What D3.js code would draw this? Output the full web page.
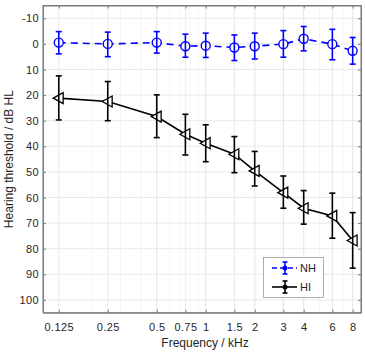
<!DOCTYPE html>
<html><head><meta charset="utf-8">
<script src="https://cdn.jsdelivr.net/npm/d3@7"></script>
<style>body{margin:0;background:#fff;}svg{display:block;font-family:"Liberation Sans",Arial,sans-serif;}</style>
</head><body><svg id="c" width="365" height="356"></svg>
<script>
const freqs = [0.125, 0.25, 0.5, 0.75, 1, 1.5, 2, 3, 4, 6, 8];
const nhMean = [-0.5, 0, -0.5, 0.9, 0.7, 1.4, 0.9, 0.1, -2, 0.1, 2.7];
const nhLow  = [-4.8, -4.6, -4.8, -3.8, -4.2, -3.5, -4.2, -5.2, -6.8, -5.7, -2.5];
const nhHigh = [3.9, 5, 3.6, 5.2, 5.3, 6.5, 5.9, 5.2, 2.7, 6.2, 7.9];
const hiMean = [21.2, 22.5, 28.4, 35.3, 38.8, 43.1, 49.6, 58.1, 64.2, 67.2, 76.8];
const hiLow  = [12.5, 14.7, 19.9, 27.5, 31.6, 36.2, 42, 51.6, 57.3, 58.3, 65.9];
const hiHigh = [29.7, 30, 36.6, 43.4, 46, 50.3, 55.5, 64.2, 70.4, 75.9, 87.6];
const xTicks = [0.125, 0.25, 0.5, 0.75, 1, 1.5, 2, 3, 4, 6, 8];
const xTickLabels = ["0.125", "0.25", "0.5", "0.75", "1", "1.5", "2", "3", "4", "6", "8"];
const yTicks = [-10, 0, 10, 20, 30, 40, 50, 60, 70, 80, 90, 100];
const yTickLabels = ["-10", "0", "10", "20", "30", "40", "50", "60", "70", "80", "90", "100"];
const minorX = [0.1,0.2,0.3,0.4,0.5,0.6,0.7,0.8,0.9,1,2,3,4,5,6,7,8,9];

const L = 43, R = 361, T = 5.5, B = 312.7;
const svg = d3.select("#c");
const x = d3.scaleLog().domain([0.1, 9]).range([L, R]);
const y = d3.scaleLinear().domain([-15, 105]).range([T, B]);

const g = svg.append("g");
g.selectAll("line.mg").data(minorX).join("line")
  .attr("x1", d => x(d)).attr("x2", d => x(d)).attr("y1", T).attr("y2", B)
  .attr("stroke", "#ededed").attr("stroke-width", 0.6);
g.selectAll("line.gx").data(xTicks).join("line")
  .attr("x1", d => x(d)).attr("x2", d => x(d)).attr("y1", T).attr("y2", B)
  .attr("stroke", "#e3e3e3").attr("stroke-width", 0.8);
g.selectAll("line.gy").data(yTicks).join("line")
  .attr("x1", L).attr("x2", R).attr("y1", d => y(d)).attr("y2", d => y(d))
  .attr("stroke", "#e3e3e3").attr("stroke-width", 0.8);

const axCol = "#7a7a7a", txtCol = "#262626";
const xAxis = svg.append("g").attr("transform", `translate(0,${B})`)
  .call(d3.axisBottom(x).tickValues(xTicks).tickFormat((d,i) => xTickLabels[i]).tickSizeInner(-3).tickSizeOuter(0).tickPadding(10.5));
const xAxisTop = svg.append("g").attr("transform", `translate(0,${T})`)
  .call(d3.axisTop(x).tickValues(xTicks).tickFormat("").tickSizeInner(-3).tickSizeOuter(0));
const yAxis = svg.append("g").attr("transform", `translate(${L},0)`)
  .call(d3.axisLeft(y).tickValues(yTicks).tickFormat((d,i) => yTickLabels[i]).tickSizeInner(-3).tickSizeOuter(0).tickPadding(4));
const yAxisR = svg.append("g").attr("transform", `translate(${R},0)`)
  .call(d3.axisRight(y).tickValues(yTicks).tickFormat("").tickSizeInner(-3).tickSizeOuter(0));
[xAxis, xAxisTop, yAxis, yAxisR].forEach(a => {
  a.select(".domain").attr("stroke", axCol);
  a.selectAll(".tick line").attr("stroke", axCol);
  a.selectAll("text").attr("fill", txtCol).attr("font-size", 11).attr("letter-spacing", 0.4)
    .attr("font-family", '"Liberation Sans",Arial,sans-serif');
});
svg.append("rect").attr("x", L).attr("y", T).attr("width", R-L).attr("height", B-T)
  .attr("fill", "none").attr("stroke", axCol).attr("stroke-width", 1);

svg.append("text").attr("x", 205).attr("y", 347).attr("text-anchor", "middle")
  .attr("font-size", 12).attr("fill", txtCol).text("Frequency / kHz");
svg.append("text").attr("transform", `translate(13,${(T+B)/2}) rotate(-90)`).attr("text-anchor", "middle")
  .attr("font-size", 12).attr("fill", txtCol).text("Hearing threshold / dB HL");

function series(mean, lo, hi, color, dash, marker) {
  const gs = svg.append("g");
  const line = d3.line().x((d,i) => x(freqs[i])).y(d => y(d));
  gs.append("path").attr("d", line(mean)).attr("fill", "none").attr("stroke", color)
    .attr("stroke-width", 1.6).attr("stroke-dasharray", dash);
  const cap = 3;
  mean.forEach((m, i) => {
    const cx = x(freqs[i]);
    gs.append("line").attr("x1", cx).attr("x2", cx).attr("y1", y(lo[i])).attr("y2", y(hi[i]))
      .attr("stroke", color).attr("stroke-width", 1.6);
    [lo[i], hi[i]].forEach(v => gs.append("line").attr("x1", cx-cap).attr("x2", cx+cap)
      .attr("y1", y(v)).attr("y2", y(v)).attr("stroke", color).attr("stroke-width", 1.6));
    const cy = y(m);
    if (marker === "circle") {
      gs.append("circle").attr("cx", cx).attr("cy", cy).attr("r", 4.5).attr("fill", "#fff")
        .attr("stroke", color).attr("stroke-width", 1.4);
      gs.append("line").attr("x1", cx).attr("x2", cx).attr("y1", cy-4.5).attr("y2", cy+4.5)
        .attr("stroke", color).attr("stroke-width", 1.6);
    } else {
      const s = 5.5;
      gs.append("path").attr("d", `M${cx-s},${cy} L${cx+s*0.8},${cy-s} L${cx+s*0.8},${cy+s} Z`)
        .attr("fill", "#fff").attr("stroke", color).attr("stroke-width", 1.3);
      gs.append("line").attr("x1", cx).attr("x2", cx).attr("y1", cy-s*0.6).attr("y2", cy+s*0.6)
        .attr("stroke", color).attr("stroke-width", 1.6);
    }
  });
}
series(nhMean, nhLow, nhHigh, "#0000ff", "7,5", "circle");
series(hiMean, hiLow, hiHigh, "#000000", null, "tri");

const lg = svg.append("g");
lg.append("rect").attr("x", 263.5).attr("y", 257.5).attr("width", 60).attr("height", 40)
  .attr("fill", "#fff").attr("stroke", "#9a9a9a").attr("stroke-width", 0.8);
const legItems = [{name:"NH", color:"#0000ff", dash:"5,3", yy:268}, {name:"HI", color:"#000000", dash:null, yy:287}];
legItems.forEach(it => {
  lg.append("line").attr("x1", 272).attr("x2", 297).attr("y1", it.yy).attr("y2", it.yy)
    .attr("stroke", it.color).attr("stroke-width", 1.6).attr("stroke-dasharray", it.dash);
  lg.append("line").attr("x1", 285).attr("x2", 285).attr("y1", it.yy-6).attr("y2", it.yy+6)
    .attr("stroke", it.color).attr("stroke-width", 1.6);
  [it.yy-6, it.yy+6].forEach(v => lg.append("line").attr("x1", 282.5).attr("x2", 287.5)
    .attr("y1", v).attr("y2", v).attr("stroke", it.color).attr("stroke-width", 1.6));
  lg.append("circle").attr("cx", 285).attr("cy", it.yy).attr("r", 2.5).attr("fill", it.color);
  lg.append("text").attr("x", 300).attr("y", it.yy+4).attr("font-size", 11).attr("fill", txtCol).text(it.name);
});
</script></body></html>
